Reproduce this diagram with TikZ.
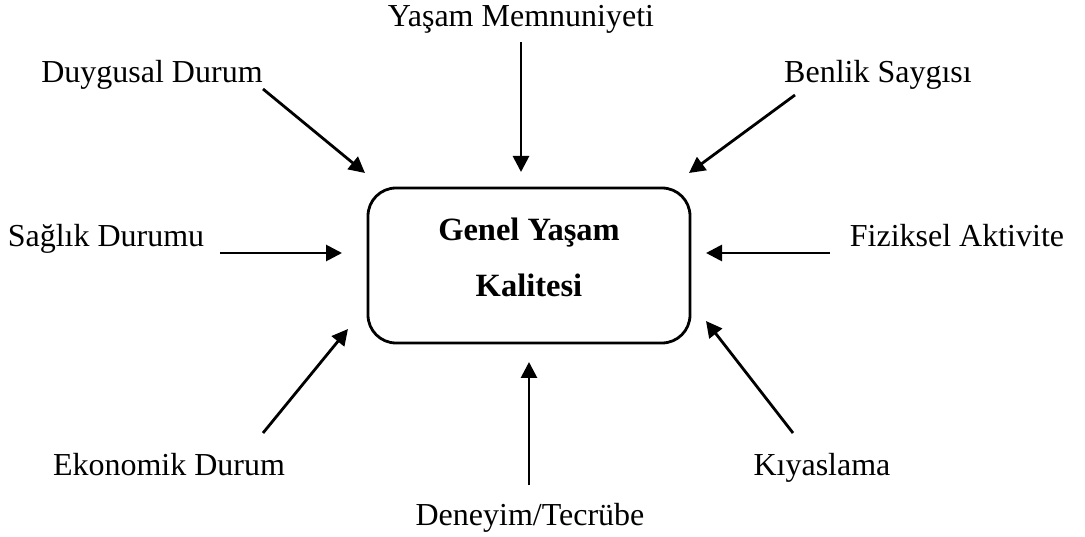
\documentclass[tikz,border=0pt]{standalone}
\usepackage{fontspec}
\setmainfont{Liberation Serif}
\usetikzlibrary{arrows.meta}
\begin{document}
\begin{tikzpicture}[x=1pt,y=1pt,
  lbl/.style={anchor=base,inner sep=0pt,font=\fontsize{32}{38}\selectfont},
  ttl/.style={anchor=base,inner sep=0pt,font=\fontsize{32.5}{38}\selectfont\bfseries},
  conn/.style={line width=2.8pt,-{Triangle[length=16pt,width=16pt]}},
  mainbox/.style={draw,line width=2.8pt,rounded corners=28pt,minimum width=322pt,minimum height=155pt,inner sep=0pt}]
\useasboundingbox (0,0) rectangle (1085,-537);
\node[mainbox] (box) at (529,-265.5) {};
\node[ttl] (t1) at (529,-241) {Genel Yaşam};
\node[ttl] (t2) at (529,-297) {Kalitesi};
% labels
\node[lbl] (ym) at (521,-27) {Yaşam Memnuniyeti};
\node[lbl] (dd) at (152,-83) {Duygusal Durum};
\node[lbl] (bs) at (878,-83) {Benlik Saygısı};
\node[lbl] (sd) at (106,-247) {Sağlık Durumu};
\node[lbl] (fa) at (957,-247) {Fiziksel Aktivite};
\node[lbl] (ed) at (169,-475) {Ekonomik Durum};
\node[lbl] (ky) at (822,-475) {Kıyaslama};
\node[lbl] (dt) at (530,-525) {Deneyim/Tecrübe};
% connector ends
\coordinate (ymS) at (521,-42);  \coordinate (ymE) at (521,-172);
\coordinate (ddS) at (263,-89);  \coordinate (ddE) at (365,-173);
\coordinate (bsS) at (795,-95);  \coordinate (bsE) at (689,-173);
\coordinate (sdS) at (220,-253); \coordinate (sdE) at (342,-253);
\coordinate (faS) at (830,-253); \coordinate (faE) at (706,-253);
\coordinate (edS) at (263,-433); \coordinate (edE) at (348,-329);
\coordinate (kyS) at (793,-433); \coordinate (kyE) at (706,-321);
\coordinate (dtS) at (529,-485); \coordinate (dtE) at (529,-362);
\draw[conn] (ymS) -- (ymE);
\draw[conn] (ddS) -- (ddE);
\draw[conn] (bsS) -- (bsE);
\draw[conn] (sdS) -- (sdE);
\draw[conn] (faS) -- (faE);
\draw[conn] (edS) -- (edE);
\draw[conn] (kyS) -- (kyE);
\draw[conn] (dtS) -- (dtE);
\end{tikzpicture}
\end{document}
